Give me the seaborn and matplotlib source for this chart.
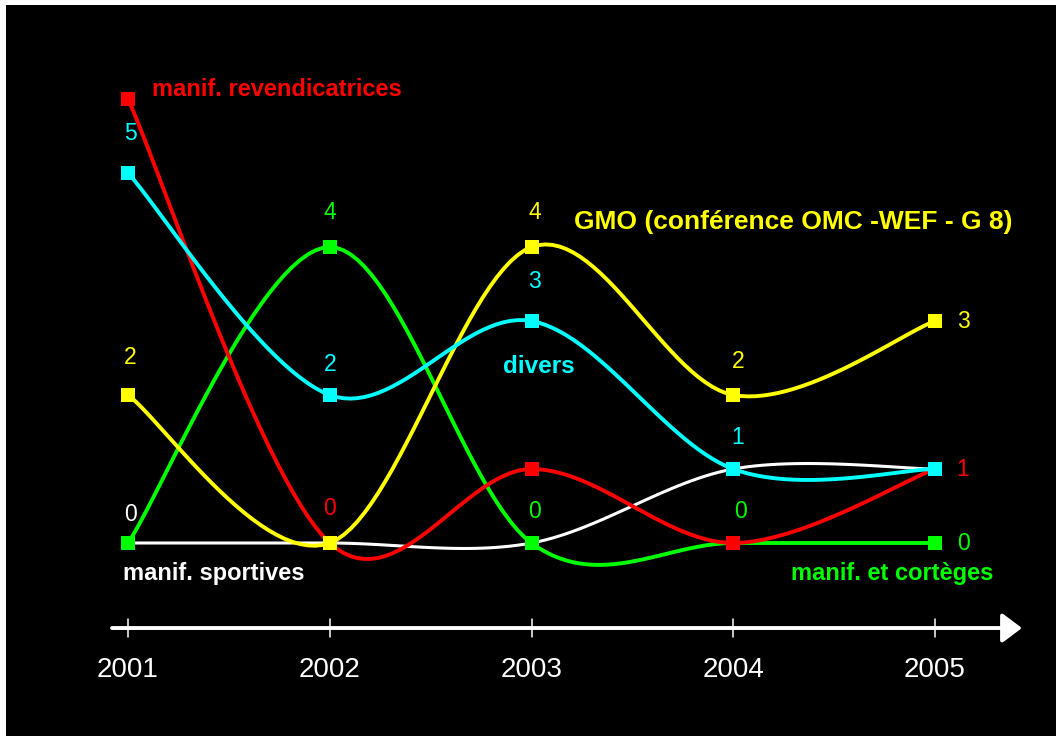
import numpy as np
import pandas as pd
import matplotlib
matplotlib.use("Agg")
import matplotlib.pyplot as plt
import seaborn as sns

sns.set_theme(style="dark")
plt.rcParams['font.family'] = ['Liberation Sans', 'DejaVu Sans']

# data
years = ["2001", "2002", "2003", "2004", "2005"]
sportives = [0, 0, 0, 1, 1]
corteges = [0, 4, 0, 0, 0]
revendicatrices = [6, 0, 1, 0, 1]
gmo = [2, 0, 4, 2, 3]
divers = [5, 2, 3, 1, 1]

# drawing order: bottom to top
series = [
    ("manif. sportives", sportives, "#FFFFFF", 2.2),
    ("manif. et cortèges", corteges, "#00FF00", 2.8),
    ("manif. revendicatrices", revendicatrices, "#FF0000", 2.8),
    ("GMO (conférence OMC -WEF - G 8)", gmo, "#FFFF00", 2.8),
    ("divers", divers, "#00FFFF", 2.8),
]


def smooth(values, steps=30):
    """Catmull-Rom style bezier through the points (like office 'smoothed line')."""
    pts = np.column_stack([np.arange(len(values)), values]).astype(float)
    p = np.vstack([pts[0], pts, pts[-1]])
    xs, ys = [], []
    t = np.linspace(0, 1, steps)[:, None]
    for i in range(1, len(p) - 2):
        b0 = p[i]
        b1 = p[i] + (p[i + 1] - p[i - 1]) / 6
        b2 = p[i + 1] - (p[i + 2] - p[i]) / 6
        b3 = p[i + 1]
        c = ((1 - t) ** 3) * b0 + 3 * ((1 - t) ** 2) * t * b1 \
            + 3 * (1 - t) * t ** 2 * b2 + t ** 3 * b3
        xs.extend(c[:, 0])
        ys.extend(c[:, 1])
    return np.array(xs), np.array(ys)


fig = plt.figure(figsize=(10.56, 7.36), dpi=100, facecolor="white")
ax = fig.add_axes([6 / 1056, 0, 1050 / 1056, 731 / 736])
ax.set_facecolor("black")

for z, (name, vals, color, lw) in enumerate(series):
    sx, sy = smooth(vals)
    curve = pd.DataFrame({"x": sx, "y": sy})
    sns.lineplot(data=curve, x="x", y="y", sort=False, color=color,
                 linewidth=lw, ax=ax, zorder=2 + z)
    pts = pd.DataFrame({"x": range(len(vals)), "y": vals})
    sns.scatterplot(data=pts, x="x", y="y", marker="s", s=95, color=color,
                    edgecolor=color, linewidth=0, ax=ax, zorder=10 + z)

# value labels: (values, index, dx, dy, color)
value_labels = [
    (divers, 0, 0.01, 0.53, "#00FFFF"),
    (corteges, 1, 0.0, 0.46, "#00FF00"),
    (gmo, 2, 0.015, 0.46, "#FFFF00"),
    (gmo, 0, 0.01, 0.51, "#FFFF00"),
    (divers, 1, 0.0, 0.41, "#00FFFF"),
    (divers, 2, 0.015, 0.53, "#00FFFF"),
    (gmo, 4, 0.14, 0.0, "#FFFF00"),
    (gmo, 3, 0.025, 0.45, "#FFFF00"),
    (divers, 3, 0.02, 0.42, "#00FFFF"),
    (revendicatrices, 4, 0.135, 0.0, "#FF0000"),
    (sportives, 0, 0.01, 0.38, "#FFFFFF"),
    (revendicatrices, 1, 0.0, 0.47, "#FF0000"),
    (corteges, 2, 0.015, 0.42, "#00FF00"),
    (corteges, 3, 0.035, 0.42, "#00FF00"),
    (corteges, 4, 0.14, 0.0, "#00FF00"),
]
for vals, i, dx, dy, color in value_labels:
    ax.text(i + dx, vals[i] + dy, str(vals[i]), color=color, fontsize=16.5,
            ha="center", va="center", zorder=20)

# series name labels
name_labels = [
    ("manif. revendicatrices", 0.119, 6.13, "#FF0000", 17),
    ("GMO (conférence OMC -WEF - G 8)", 2.211, 4.34, "#FFFF00", 19),
    ("divers", 1.859, 2.38, "#00FFFF", 17.5),
    ("manif. sportives", -0.025, -0.41, "#FFFFFF", 17),
    ("manif. et cortèges", 3.286, -0.41, "#00FF00", 17),
]
for text, x, y, color, size in name_labels:
    ax.text(x, y, text, color=color, fontsize=size, fontweight="bold",
            ha="left", va="center", zorder=20)

# time axis with arrow
axis_y = -1.149
ax.annotate("", xy=(4.431, axis_y), xytext=(-0.079, axis_y),
            arrowprops=dict(arrowstyle="-|>,head_length=0.6,head_width=0.45",
                            color="white", lw=2.8, shrinkA=0, shrinkB=0,
                            mutation_scale=20))
for i, yr in enumerate(years):
    ax.plot([i, i], [axis_y - 0.12, axis_y + 0.12], color="white", lw=1.1)
    ax.text(i, -1.716, yr, color="white", fontsize=20, ha="center", va="center")

ax.set_xlim(-122 / 201.75, 928 / 201.75)
ax.set_ylim((543 - 736) / 74, 538 / 74)
ax.set_xlabel("")
ax.set_ylabel("")
ax.set_xticks([])
ax.set_yticks([])
ax.grid(False)
for sp in ax.spines.values():
    sp.set_visible(False)

fig.savefig("out.png", dpi=100, facecolor="white")
